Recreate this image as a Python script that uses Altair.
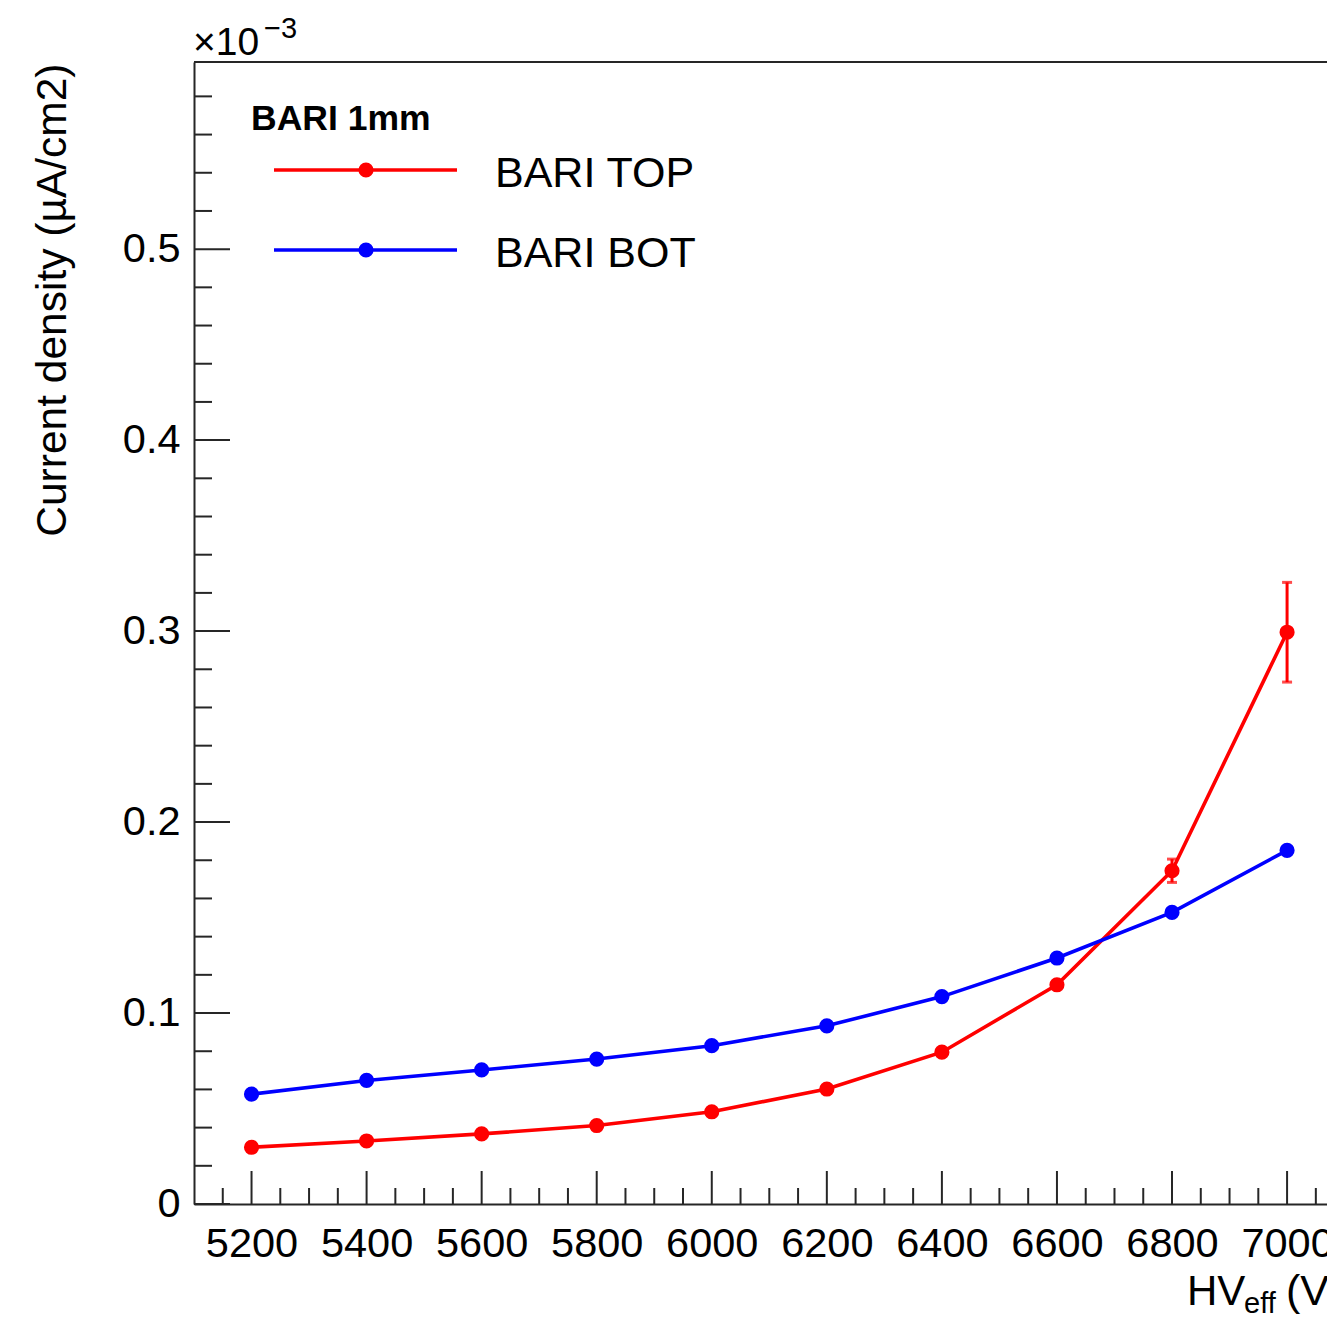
import altair as alt
import pandas as pd

# Effective high voltage (V)
hv_eff = [5200, 5400, 5600, 5800, 6000, 6200, 6400, 6600, 6800, 7000]
# Current density, in units of 1e-3 uA/cm2
bari_top = [0.0297, 0.0330, 0.0367, 0.0411, 0.0483, 0.0602, 0.0795, 0.1148, 0.1745, 0.2994]
bari_top_err = [0, 0, 0, 0, 0, 0, 0, 0, 0.0061, 0.0261]
bari_bot = [0.0575, 0.0647, 0.0702, 0.0759, 0.0829, 0.0933, 0.1086, 0.1288, 0.1527, 0.1852]
bari_bot_err = [0, 0, 0, 0, 0, 0, 0, 0, 0, 0]

series_names = ["BARI TOP", "BARI BOT"]
series_colors = ["#ff0000", "#0000ff"]

x_labels = [5200, 5400, 5600, 5800, 6000, 6200, 6400, 6600, 6800, 7000]
y_labels = [0, 0.1, 0.2, 0.3, 0.4, 0.5]

FONT = "Liberation Sans"
AXIS_COLOR = "#262626"
W, H = 1133, 1142
X_DOMAIN = [5100, 7069.4]
Y_DOMAIN = [0, 0.598]
MARK_SIZE = 230
LINE_W = 3.6

rows = []
for name, vals, errs in [("BARI TOP", bari_top, bari_top_err), ("BARI BOT", bari_bot, bari_bot_err)]:
    for v, c, e in zip(hv_eff, vals, errs):
        rows.append({"hv": v, "current": c, "err": e, "series": name})
df = pd.DataFrame(rows)

xs = alt.Scale(domain=X_DOMAIN, nice=False, zero=False)
ys = alt.Scale(domain=Y_DOMAIN, nice=False, zero=False)
color = alt.Color("series:N", scale=alt.Scale(domain=series_names, range=series_colors), legend=None)

x_axis = alt.Axis(
    values=x_labels, format="d", ticks=False, tickSize=0, grid=False, title=None,
    labelFont=FONT, labelFontSize=41.5, labelColor="black", labelPadding=52,
    labelBaseline="alphabetic", labelFlush=False, labelOverlap=False,
    domainColor=AXIS_COLOR, domainWidth=2,
)
y_axis = alt.Axis(
    values=y_labels, format=".1~f", ticks=False, tickSize=0, grid=False,
    labelFont=FONT, labelFontSize=41.5, labelColor="black", labelPadding=14,
    labelFlush=False, labelOverlap=False,
    domainColor=AXIS_COLOR, domainWidth=2,
    title="Current density (µA/cm2)", titleFont=FONT, titleFontSize=42.5,
    titleFontWeight="normal", titleColor="black", titleAngle=270,
    titleAlign="right", titleBaseline="alphabetic", titleX=-129, titleY=1,
)

base = alt.Chart(df)

lines = base.mark_line(strokeWidth=LINE_W).encode(
    x=alt.X("hv:Q", scale=xs, axis=x_axis),
    y=alt.Y("current:Q", scale=ys, axis=y_axis),
    color=color,
    detail="series:N",
)
points = base.mark_circle(size=MARK_SIZE, opacity=1).encode(
    x=alt.X("hv:Q", scale=xs), y=alt.Y("current:Q", scale=ys), color=color
)

errs = base.transform_filter("datum.err > 0").transform_calculate(
    lo="datum.current - datum.err", hi="datum.current + datum.err"
)
err_bars = errs.mark_rule(strokeWidth=3).encode(
    x=alt.X("hv:Q", scale=xs), y=alt.Y("lo:Q", scale=ys), y2="hi:Q", color=color
)
cap_lo = errs.mark_tick(orient="horizontal", size=10, thickness=3).encode(
    x=alt.X("hv:Q", scale=xs), y=alt.Y("lo:Q", scale=ys), color=color
)
cap_hi = errs.mark_tick(orient="horizontal", size=10, thickness=3).encode(
    x=alt.X("hv:Q", scale=xs), y=alt.Y("hi:Q", scale=ys), color=color
)

# Inward-pointing axis ticks, ROOT style
x_major = pd.DataFrame({"v": x_labels})
x_minor = pd.DataFrame({"v": [v for v in range(5150, 7051, 50) if v % 200 != 0]})
y_major = pd.DataFrame({"v": y_labels})
y_minor = pd.DataFrame({"v": [round(i * 0.02, 2) for i in range(1, 30) if i % 5 != 0]})

def xticks(d, length):
    return alt.Chart(d).mark_rule(color=AXIS_COLOR, strokeWidth=2).encode(
        x=alt.X("v:Q", scale=xs), y=alt.value(H), y2=alt.value(H - length)
    )

def yticks(d, length):
    return alt.Chart(d).mark_rule(color=AXIS_COLOR, strokeWidth=2).encode(
        y=alt.Y("v:Q", scale=ys), x=alt.value(0), x2=alt.value(length)
    )

one = pd.DataFrame({"k": [0]})

top_frame = alt.Chart(one).mark_rule(color=AXIS_COLOR, strokeWidth=2).encode(
    x=alt.value(0), x2=alt.value(W), y=alt.value(0)
)

def label(text, x, y, size, weight="normal", align="left"):
    return alt.Chart(one).mark_text(
        text=text, font=FONT, fontSize=size, fontWeight=weight, color="black",
        align=align, baseline="alphabetic",
    ).encode(x=alt.value(x), y=alt.value(y))

# Exponent of the y axis
exp_main = label("×10", -1, -7, 39)
exp_sup = label("−3", 70, -24, 29)

# x axis title with subscript
xt_main = label("HV", 993, 1243, 42)
xt_sub = label("eff", 1050, 1251, 29)
xt_unit = label("(V)", 1092, 1243, 43)

# Legend box
legend_layers = [label("BARI 1mm", 57, 68, 35.5, weight="bold")]
for i, (name, col) in enumerate(zip(series_names, series_colors)):
    ly = 108 + 80 * i
    legend_layers.append(
        alt.Chart(one).mark_rule(color=col, strokeWidth=LINE_W).encode(
            x=alt.value(80), x2=alt.value(263), y=alt.value(ly)
        )
    )
    legend_layers.append(
        alt.Chart(one).mark_circle(color=col, size=MARK_SIZE, opacity=1).encode(
            x=alt.value(172), y=alt.value(ly)
        )
    )
    legend_layers.append(label(name, 301, ly + 17, 43))

chart = alt.layer(
    lines, points, err_bars, cap_lo, cap_hi,
    xticks(x_major, 33), xticks(x_minor, 16),
    yticks(y_major, 36), yticks(y_minor, 18),
    top_frame,
    exp_main, exp_sup, xt_main, xt_sub, xt_unit,
    *legend_layers,
).properties(
    width=W, height=H,
    autosize=alt.AutoSizeParams(type="none"),
    padding={"left": 194, "top": 62, "right": 0, "bottom": 113},
    background="white",
).configure_view(stroke=None)

chart.save("out.html", embed_options={"renderer": "svg", "actions": False})
